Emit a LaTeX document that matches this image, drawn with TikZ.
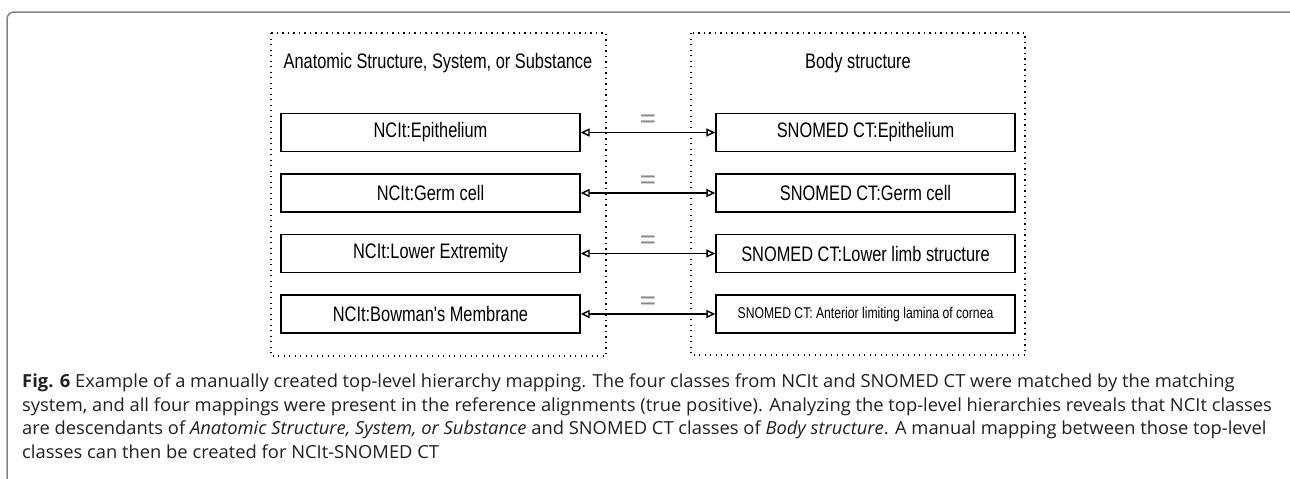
\documentclass[tikz,border=0pt]{standalone}
\usepackage{fontspec}
\usepackage{graphicx}
\usetikzlibrary{arrows.meta}
\setmainfont{Open Sans}
\newfontfamily\cond[FakeStretch=0.78]{Liberation Sans}
\newfontfamily\capfont{Open Sans}
\newcommand{\capw}[1]{\scalebox{1.02}[1]{#1}}
\definecolor{framegray}{RGB}{130,130,130}
\definecolor{eqgray}{RGB}{140,140,140}
\definecolor{captext}{RGB}{35,31,32}
\tikzset{
  cls/.style={draw, line width=1.3pt, minimum width=299pt, minimum height=38pt, inner sep=0pt,
    font=\cond\fontsize{21}{25}\selectfont},
  clssmall/.style={cls, font=\cond\fontsize{15.6}{19}\selectfont},
  grp/.style={draw, line width=1.3pt, dash pattern=on 1.3pt off 4.2pt},
  hdr/.style={anchor=base, inner sep=0pt, font=\cond\fontsize{21}{25}\selectfont},
  maparrow/.style={line width=1.4pt, {Triangle[open,length=9pt,width=8pt]}-{Triangle[open,length=9pt,width=8pt]}},
  eqs/.style={midway, yshift=10pt, inner sep=0pt, text=eqgray, font=\fontsize{30}{30}\selectfont},
  capline/.style={anchor=base west, inner sep=0pt, text=captext, font=\capfont\fontsize{18}{22}\selectfont}
}
\begin{document}
\begin{tikzpicture}[x=1pt,y=-1pt]
\useasboundingbox (0,0) rectangle (1290,479);
% outer frame
\draw[framegray, line width=1.5pt, rounded corners=7pt] (7,520) -- (7,12) -- (1296,12) -- (1296,520);
% group boxes
\draw[grp] (271,33) rectangle (606,356);
\draw[grp] (691,33) rectangle (1025,355);
\node[hdr] (hl) at (438,68) {Anatomic Structure, System, or Substance};
\node[hdr] (hr) at (858,68) {Body structure};
% classes
\node[cls] (l1) at (430.5,132.5) {NCIt:Epithelium};
\node[cls] (l2) at (430.5,193) {NCIt:Germ cell};
\node[cls] (l3) at (430.5,253.5) {NCIt:Lower Extremity};
\node[cls] (l4) at (430.5,314) {NCIt:Bowman's Membrane};
\node[cls] (r1) at (865.5,132.5) {SNOMED CT:Epithelium};
\node[cls] (r2) at (865.5,193) {SNOMED CT:Germ cell};
\node[cls] (r3) at (865.5,253.5) {SNOMED CT:Lower limb structure};
\node[clssmall] (r4) at (865.5,314) {SNOMED CT: Anterior limiting lamina of cornea};
% mappings
\draw[maparrow] (l1.east) -- node[eqs]{=} (r1.west);
\draw[maparrow] (l2.east) -- node[eqs]{=} (r2.west);
\draw[maparrow] (l3.east) -- node[eqs]{=} (r3.west);
\draw[maparrow] (l4.east) -- node[eqs]{=} (r4.west);
% caption
\node[capline] (c1) at (22,387) {\capw{\textbf{Fig. 6} Example of a manually created top-level hierarchy mapping. The four classes from NCIt and SNOMED CT were matched by the matching}};
\node[capline] (c2) at (22,411) {\capw{system, and all four mappings were present in the reference alignments (true positive). Analyzing the top-level hierarchies reveals that NCIt classes}};
\node[capline] (c3) at (22,434) {\capw{are descendants of \textit{Anatomic Structure, System, or Substance} and SNOMED CT classes of \textit{Body structure}. A manual mapping between those top-level}};
\node[capline] (c4) at (22,458) {\capw{classes can then be created for NCIt-SNOMED CT}};
\end{tikzpicture}
\end{document}
